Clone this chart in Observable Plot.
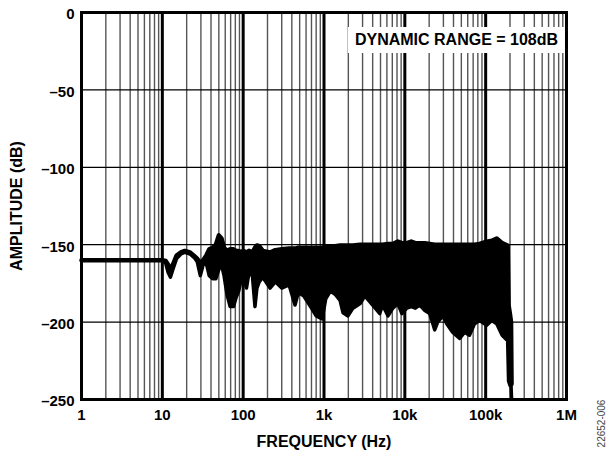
<!DOCTYPE html>
<html><head><meta charset="utf-8">
<script src="https://cdn.jsdelivr.net/npm/d3@7"></script>
<script src="https://cdn.jsdelivr.net/npm/@observablehq/plot@0.6"></script>
<style>
html,body{margin:0;padding:0;background:#fff;}
#wrap{position:relative;width:607px;height:450px;font-family:"Liberation Sans",Arial,sans-serif;}
#note{position:absolute;left:348px;top:27px;width:217px;height:26px;background:#fff;font-weight:bold;font-size:16px;line-height:26px;text-align:center;color:#000;white-space:nowrap;}
</style>
</head><body>
<div id="wrap"><div id="note">DYNAMIC RANGE = 108dB</div></div>
<script>
// Frequencies (Hz) and envelope of the noise-floor trace (dB)
const freqs = [1,10,11,11.8,12.6,13.5,15,17,19,22,25,27,29.5,32,35,38,42,46,50,54,58,63,69,76,82,88,96,100,110,118,130,140,148,158,175,215,250,300,370,438,480,560,700,800,950,1050,1200,1370,1580,1720,1980,2280,2800,3200,3700,4300,4900,5300,6200,7100,8200,9200,10600,12000,13500,15300,17700,20300,23400,25500,29400,33000,39000,47700,55000,63000,73000,84000,103000,119000,137000,160000,187000,192000,200000,206000,209000];
const upper = [-160,-160,-160.5,-163,-166,-163,-157,-155,-154,-155,-157.5,-159,-162,-160,-157,-153,-152,-150,-144,-146,-152,-154,-153,-153,-154,-154,-155,-154,-155,-154,-155,-152,-150.5,-151,-154,-155,-153.5,-153,-152.5,-152.5,-152,-152,-152,-152,-152,-151.5,-151,-151,-150.5,-150.5,-150.5,-150.5,-150,-150,-150,-150,-150,-150,-149.5,-149.5,-148,-149,-149,-148,-149,-149,-149,-149.5,-150,-150,-150,-150,-150,-150,-150,-150,-150,-149.5,-148,-147.5,-146,-149,-150.5,-189,-195,-200,-240];
const lower = [-160,-160,-162,-168,-171,-166,-159,-156,-155,-156,-158.5,-161,-170,-163,-162,-170,-172,-172,-166,-163,-170,-182,-190,-190,-184,-180,-171,-171,-178,-168,-170,-190,-178,-174,-171,-178,-174,-178,-176,-189,-181,-183,-191,-196,-198,-185,-180,-182,-186,-194,-196,-191,-188,-183,-187,-191,-194.5,-189,-196,-191,-188,-194.5,-191,-190,-191,-189,-192.5,-194.5,-205,-200,-196,-201,-206.5,-210.5,-206.5,-208.5,-201,-199,-202,-199,-201,-208.5,-212,-238,-241,-241,-249];

// Axis ticks and labels
const decadeTicks = [1,10,100,1000,10000,100000,1000000];
const freqLabels = ["1","10","100","1k","10k","100k","1M"];
const ampTicks = [0,-50,-100,-150,-200,-250];
const minorTicks = d3.range(0,6).flatMap(e => d3.range(2,10).map(k => k*Math.pow(10,e)));

const trace = freqs.map((f,i) => ({f, hi: upper[i], lo: lower[i]}));
const font = "Liberation Sans, Arial, sans-serif";

const chart = Plot.plot({
  width: 607, height: 450,
  marginLeft: 81, marginRight: 41, marginTop: 12, marginBottom: 51,
  style: {fontFamily: font, background: "#fff", color: "#000"},
  x: {type: "log", domain: [1, 1e6], label: null},
  y: {domain: [-250, 0], label: null},
  marks: [
    Plot.ruleX(minorTicks, {stroke: "#555", strokeWidth: 1.4}),
    Plot.ruleX(decadeTicks, {stroke: "#000", strokeWidth: 3}),
    Plot.ruleY(ampTicks, {stroke: "#000", strokeWidth: 1.2}),
    Plot.areaY(trace, {x: "f", y1: "lo", y2: "hi", fill: "#000"}),
    Plot.line(trace, {x: "f", y: "hi", stroke: "#000", strokeWidth: 4.5, strokeLinejoin: "round"}),
    Plot.line(trace, {x: "f", y: "lo", stroke: "#000", strokeWidth: 3.5, strokeLinejoin: "round"}),
    Plot.frame({stroke: "#000", strokeWidth: 3}),
    Plot.axisX({ticks: decadeTicks, tickFormat: d => freqLabels[decadeTicks.indexOf(d)], tickSize: 0, tickPadding: 10, fontSize: 15, fontWeight: "bold", fill: "#000", label: null}),
    Plot.axisY({ticks: ampTicks, tickFormat: d => d === 0 ? "0" : "\u2013" + Math.abs(d), tickSize: 0, tickPadding: 7, dy: 2, fontSize: 15, fontWeight: "bold", fill: "#000", label: null}),
    Plot.text(["FREQUENCY (Hz)"], {text: d => d, frameAnchor: "bottom", dy: 42, textAnchor: "middle", lineAnchor: "middle", fontSize: 16, fontWeight: "bold", fill: "#000"}),
    Plot.text(["AMPLITUDE (dB)"], {text: d => d, frameAnchor: "left", dx: -65, rotate: -90, textAnchor: "middle", lineAnchor: "middle", fontSize: 16, fontWeight: "bold", fill: "#000"}),
    Plot.text(["22652-006"], {text: d => d, frameAnchor: "bottom-right", dx: 35, dy: 24, rotate: -90, textAnchor: "middle", lineAnchor: "middle", fontSize: 10, fill: "#444"})
  ]
});
document.getElementById("wrap").prepend(chart);
</script>
</body></html>
